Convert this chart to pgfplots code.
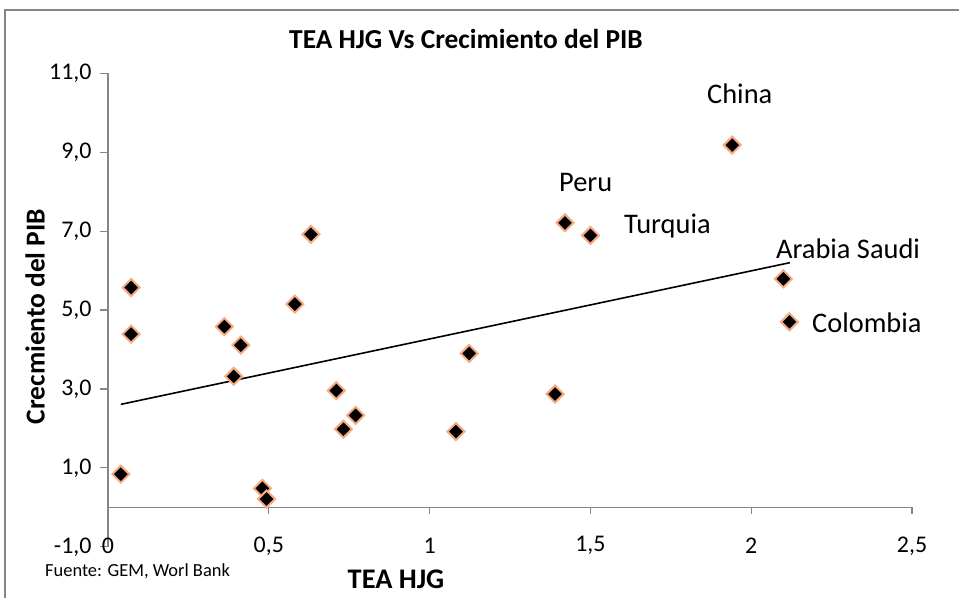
\documentclass[border=0pt]{standalone}
\usepackage{pgfplots}
\pgfplotsset{compat=1.18}
\usepackage{fontspec}
\setmainfont{Carlito}
\definecolor{axgray}{RGB}{134,134,134}
\definecolor{mkedge}{RGB}{245,170,130}
\begin{document}
\begin{tikzpicture}
\useasboundingbox (0bp,0bp) rectangle (959bp,598bp);
\draw[axgray,line width=1.2bp] (5bp,-5bp) -- (5bp,588bp) -- (970bp,588bp);
\begin{axis}[
  at={(108bp,51.2bp)}, anchor=south west,
  scale only axis, width=804bp, height=473.5bp,
  xmin=0, xmax=2.5, ymin=-1, ymax=11,
  axis lines*=left,
  x axis line style={draw=none},
  y axis line style={axgray, line width=1.2bp},
  xtick={0,0.5,1,1.5,2,2.5},
  xticklabels={0,{0,5},1,{1,5},2,{2,5}},
  ytick={-1,1,3,5,7,9,11},
  yticklabel={\pgfmathprintnumber[fixed,fixed zerofill,precision=1,use comma]{\tick}},
  /pgf/number format/assume math mode=true,
  tick align=outside,
  major tick length=8bp,
  xtick style={draw=none},
  ytick style={axgray, line width=1.2bp},
  ticklabel style={font=\fontsize{24}{28}\selectfont, text=black},
  xticklabel style={anchor=center, yshift=9bp},
  yticklabel style={xshift=-5bp},
  clip=false,
]
\draw[axgray, line width=1.2bp] (axis cs:0,0) -- (axis cs:2.5,0);
\pgfplotsinvokeforeach{0,0.5,1,1.5,2,2.5}{
  \draw[axgray, line width=1.2bp] (axis cs:#1,0) -- ++(0bp,-7bp);
}
\addplot[black, line width=1.6bp] coordinates {(0.04,2.61) (2.12,6.20)};
\addplot[only marks, mark=square*, mark size=6bp,
  mark options={rotate=45, fill=black, draw=mkedge, line width=2bp}]
coordinates {
(0.040,0.84) (0.072,5.57) (0.072,4.39) (0.362,4.58) (0.413,4.11)
(0.391,3.32) (0.581,5.15) (0.631,6.92) (0.710,2.96) (0.770,2.33)
(0.732,1.98) (0.480,0.48) (0.493,0.21) (1.123,3.90) (1.390,2.87)
(1.082,1.92) (1.941,9.18) (1.421,7.21) (1.500,6.89) (2.100,5.79)
(2.119,4.70)
};
\end{axis}
\begin{scope}[every node/.style={inner sep=0pt, font=\fontsize{28.5}{32}\selectfont}]
\node[anchor=base west] at (707bp,494.7bp) {China};
\node[anchor=base west] at (559bp,406.3bp) {Peru};
\node[anchor=base west] at (624bp,364bp) {Turquia};
\node[anchor=base west] at (776bp,339.7bp) {Arabia Saudi};
\node[anchor=base west] at (812bp,265.3bp) {Colombia};
\end{scope}
\node[inner sep=0pt, font=\bfseries\fontsize{27.5}{32}\selectfont] at (466bp,559bp) {TEA HJG Vs Crecimiento del PIB};
\node[inner sep=0pt, rotate=90, font=\bfseries\fontsize{27.5}{32}\selectfont] at (35bp,281.5bp) {Crecmiento del PIB};
\node[inner sep=0pt, font=\bfseries\fontsize{28.5}{32}\selectfont] at (396bp,19bp) {TEA HJG};
\node[inner sep=0pt, anchor=west, font=\fontsize{18.5}{22}\selectfont] at (45bp,27bp) {Fuente: GEM, Worl Bank};
\end{tikzpicture}
\end{document}
